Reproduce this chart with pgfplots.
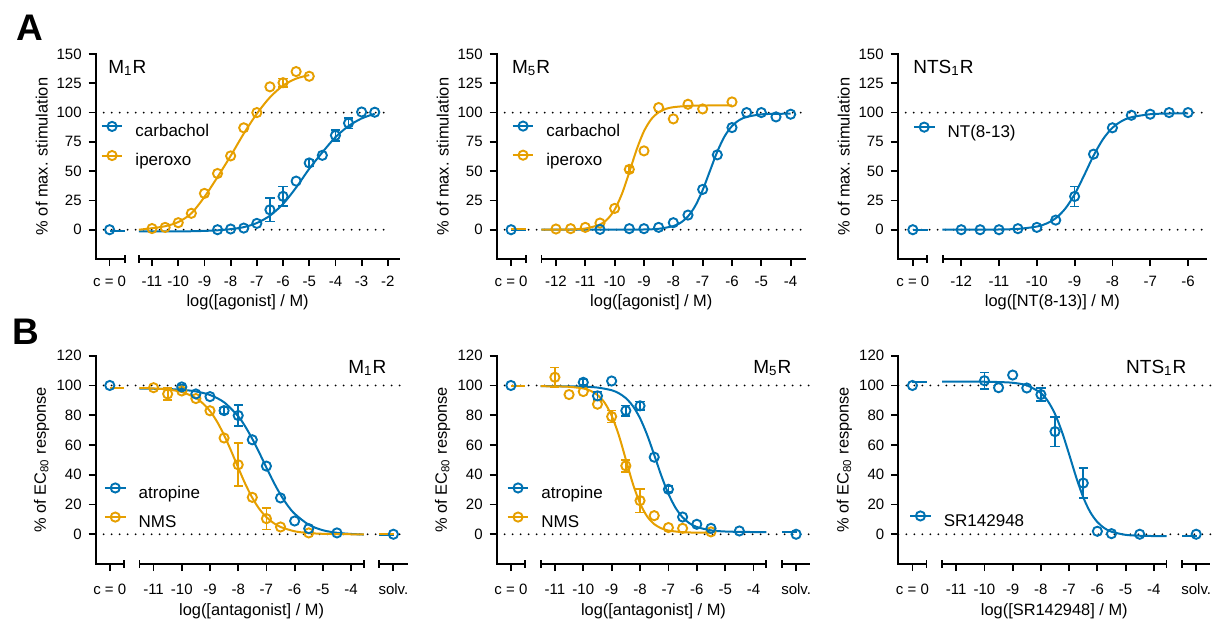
\documentclass[border=0pt]{standalone}
\usepackage{fontspec}
\setmainfont{Liberation Sans}
\usepackage{pgfplots}
\pgfplotsset{compat=1.18}

\definecolor{cb}{HTML}{0072B2}
\definecolor{co}{HTML}{E69F00}

\pgfplotsset{
  panel/.style={scale only axis, anchor=south west, clip=false,
    axis x line*=bottom, axis y line*=left,
    x axis line style={draw=none},
    y axis line style={line width=0.9pt, line cap=rect},
    tick align=outside, major tick length=3.5pt,
    every tick/.style={black, line width=0.9pt},
    minor tick num=0,
    /pgf/number format/assume math mode=true,
    tick label style={font=\fontsize{7.5}{9}\selectfont},
    label style={font=\fontsize{8.2}{10}\selectfont},
    ylabel style={at={([xshift=-27pt]axis description cs:0,0.5)}, anchor=center},
    legend style={draw=none, fill=none, inner sep=0pt, outer sep=0pt,
      font=\fontsize{8.5}{10}\selectfont, row sep=4.85pt,
      nodes={inner sep=0.5pt, text height=6.2pt, text depth=1.8pt},
      /tikz/every odd column/.append style={column sep=5.5pt}},
    legend cell align=left},
  rowA/.style={panel, height=102.5pt, ymin=-25, ymax=150, ytick={0,25,50,75,100,125,150},
    xticklabel style={yshift=-1.5pt},
    xlabel style={at={([yshift=-21.4pt]axis description cs:0.5,0)}, anchor=center},
    ylabel={\% of max. stimulation}},
  rowB/.style={panel, height=104.15pt, ymin=-20, ymax=120, ytick={0,20,40,60,80,100,120},
    xmin=-13.05, xmax=-2,
    xtick={-12.55,-11,-10,-9,-8,-7,-6,-5,-4,-2.5},
    xticklabels={c = 0,-11,-10,-9,-8,-7,-6,-5,-4,solv.},
    xticklabel style={yshift=-3pt},
    xlabel style={at={([yshift=-23.85pt]axis description cs:0.5,0)}, anchor=center},
    ylabel={\% of EC\textsubscript{80} response}},
  curve/.style={forget plot, line width=1pt, mark=none, smooth},
  pts/.style={forget plot, only marks, mark=o, mark size=2.3pt,
    mark options={line width=0.95pt, fill=white, solid}},
  errs/.style={forget plot, #1, only marks, mark=*, mark size=0.01pt,
    error bars/.cd, y dir=both, y explicit,
    error bar style={#1, line width=0.85pt, solid},
    error mark options={#1, rotate=90, mark size=2.3pt, line width=0.85pt}},
  leg/.style={line width=1pt, mark=o, mark size=2.3pt,
    mark options={fill=white, line width=0.95pt, solid},
    legend image code/.code={\draw[mark repeat=2,mark phase=2,##1]
      plot coordinates {(0pt,2.9pt) (5.2pt,2.9pt) (10.4pt,2.9pt)};}}
}
\tikzset{
  dotline/.style={black, line width=1pt, line cap=round, dash pattern=on 0pt off 4pt},
  xseg/.style={black, line width=0.9pt}
}
% end bar of an x-axis segment
\newcommand{\xbar}[2]{\draw[xseg] ([yshift=2pt]axis cs:#1,#2) -- ([yshift=-2pt]axis cs:#1,#2);}

\begin{document}
\begin{tikzpicture}
\useasboundingbox (0,0) rectangle (606.5pt,309pt);

% ---------- A1: M1R agonists
\begin{axis}[rowA, at={(47.85pt,179.5pt)}, width=151.96pt,
  xmin=-13.15, xmax=-1.55,
  xtick={-12.62,-11,-10,-9,-8,-7,-6,-5,-4,-3,-2},
  xticklabels={c = 0,-11,-10,-9,-8,-7,-6,-5,-4,-3,-2},
  xlabel={log([agonist] / M)},
  legend style={at={(axis cs:-12.96,92.1)}, anchor=north west}]
\draw[dotline] (axis cs:-13.15,0) -- (axis cs:-2,0);
\draw[dotline] (axis cs:-13.15,100) -- (axis cs:-2,100);
\draw[xseg] (axis cs:-13.15,-25) -- (axis cs:-12.04,-25);
\xbar{-12.04}{-25}
\xbar{-11.49}{-25}
\draw[xseg] (axis cs:-11.49,-25) -- (axis cs:-1.55,-25);
\addplot[curve, cb] coordinates {(-12.62,-1.5) (-12.04,-1.5)};
\addplot[curve, cb] coordinates {(-11.5,-1.5) (-11,-1.5) (-10.5,-1.5) (-10,-1.4) (-9.5,-1.3) (-9,-1.0) (-8.5,-0.5) (-8,0.5) (-7.5,2.2) (-7,5.7) (-6.5,12) (-6,22) (-5.5,36) (-5,52) (-4.5,66) (-4,79) (-3.5,88.5) (-3,95) (-2.5,99)};
\addplot[curve, co] coordinates {(-11.5,0) (-11,1.3) (-10.5,3) (-10,6.5) (-9.5,14) (-9,28) (-8.5,45) (-8,63) (-7.5,82) (-7,99) (-6.5,113) (-6,123) (-5.5,129) (-5,132)};
\addplot[errs=co] coordinates {(-6,125.5) +- (0,3.5)};
\addplot[pts, co] coordinates {(-11,1) (-10.5,2) (-10,6) (-9.5,14) (-9,31) (-8.5,48) (-8,63) (-7.5,87) (-7,100) (-6.5,122) (-6,125.5) (-5.5,135) (-5,131)};
\addplot[errs=cb] coordinates {(-6.5,17) +- (0,10) (-6,28.5) +- (0,8.5) (-5,57) +- (0,3) (-4,80.5) +- (0,4.5) (-3.5,91) +- (0,4.5)};
\addplot[pts, cb] coordinates {(-12.62,0) (-8.5,0) (-8,0.6) (-7.5,1.4) (-7,5.4) (-6.5,17) (-6,28.5) (-5.5,41.5) (-5,57) (-4.5,63.5) (-4,80.5) (-3.5,91) (-3,100.5) (-2.5,100.3)};
\addlegendimage{cb, leg}\addlegendentry{carbachol}
\addlegendimage{co, leg}\addlegendentry{iperoxo}
\end{axis}

% ---------- A2: M5R agonists
\begin{axis}[rowA, at={(248.35pt,179.5pt)}, width=154.6pt,
  xmin=-14.02, xmax=-3.48,
  xtick={-13.53,-12,-11,-10,-9,-8,-7,-6,-5,-4},
  xticklabels={c = 0,-12,-11,-10,-9,-8,-7,-6,-5,-4},
  xlabel={log([agonist] / M)},
  legend style={at={(axis cs:-13.51,92.4)}, anchor=north west}]
\draw[dotline] (axis cs:-14.02,0) -- (axis cs:-3.6,0);
\draw[dotline] (axis cs:-14.02,100) -- (axis cs:-3.6,100);
\draw[xseg] (axis cs:-14.02,-25) -- (axis cs:-13.02,-25);
\xbar{-13.02}{-25}
\xbar{-12.49}{-25}
\draw[xseg] (axis cs:-12.49,-25) -- (axis cs:-3.48,-25);
\addplot[curve, cb] coordinates {(-13.53,0) (-13.02,0)};
\addplot[curve, co] coordinates {(-13.53,0.3) (-13.02,0.3)};
\addplot[curve, cb] coordinates {(-12.5,0) (-10,0) (-9,0.2) (-8.5,0.8) (-8,3.1) (-7.75,6) (-7.5,11.4) (-7.25,20.4) (-7,33.8) (-6.75,50.3) (-6.5,66.7) (-6.25,79.8) (-6,88.5) (-5.75,93.6) (-5.5,96.3) (-5,98.5) (-4.5,98.9) (-4,99.1)};
\addplot[curve, co] coordinates {(-12.5,0) (-12,0.05) (-11.5,0.2) (-11,1) (-10.5,4.4) (-10.25,8.9) (-10,17.1) (-9.75,30.7) (-9.5,49.1) (-9.25,68.4) (-9,84.1) (-8.75,94.4) (-8.5,100.2) (-8.25,103.2) (-8,104.6) (-7.5,105.7) (-7,106) (-6,106.2)};
\addplot[errs=co] coordinates {(-9.5,51.5) +- (0,2.5)};
\addplot[pts, co] coordinates {(-12,0.6) (-11.5,0.9) (-11,2) (-10.5,5.7) (-10,18.2) (-9.5,51.5) (-9,67.3) (-8.5,104.3) (-8,94.6) (-7.5,107.1) (-7,103.1) (-6,109.1)};
\addplot[pts, cb] coordinates {(-13.53,0) (-10.5,0.3) (-9.5,0.9) (-9,0.9) (-8.5,2) (-8,6) (-7.5,12.5) (-7,34.4) (-6.5,63.9) (-6,87.2) (-5.5,100) (-5,100) (-4.5,96.3) (-4,98.6)};
\addlegendimage{cb, leg}\addlegendentry{carbachol}
\addlegendimage{co, leg}\addlegendentry{iperoxo}
\end{axis}

% ---------- A3: NTS1R agonist
\begin{axis}[rowA, at={(448.85pt,179.5pt)}, width=154.6pt,
  xmin=-13.68, xmax=-5.5,
  xtick={-13.28,-12,-11,-10,-9,-8,-7,-6},
  xticklabels={c = 0,-12,-11,-10,-9,-8,-7,-6},
  xlabel={log([NT(8-13)] / M)},
  legend style={at={(axis cs:-13.28,91.5)}, anchor=north west}]
\draw[dotline] (axis cs:-13.68,0) -- (axis cs:-5.55,0);
\draw[dotline] (axis cs:-13.68,100) -- (axis cs:-5.55,100);
\draw[xseg] (axis cs:-13.68,-25) -- (axis cs:-12.9,-25);
\xbar{-12.9}{-25}
\xbar{-12.49}{-25}
\draw[xseg] (axis cs:-12.49,-25) -- (axis cs:-5.5,-25);
\addplot[curve, cb] coordinates {(-13.28,0) (-12.9,0)};
\addplot[curve, cb] coordinates {(-12.5,0) (-11.5,0.05) (-11,0.2) (-10.5,0.7) (-10,2.7) (-9.75,5.2) (-9.5,9.8) (-9.25,17.9) (-9,30.2) (-8.75,46.3) (-8.5,63.2) (-8.25,77.2) (-8,87) (-7.75,92.8) (-7.5,96) (-7,98.6) (-6.5,99.2) (-6,99.4)};
\addplot[errs=cb] coordinates {(-9,28.4) +- (0,8.5)};
\addplot[pts, cb] coordinates {(-13.28,0) (-12,0) (-11.5,0) (-11,0) (-10.5,0.9) (-10,2) (-9.5,8.2) (-9,28.4) (-8.5,64.5) (-8,87) (-7.5,97.7) (-7,98.6) (-6.5,100) (-6,100)};
\addlegendimage{cb, leg}\addlegendentry{NT(8-13)}
\end{axis}

% ---------- B1: M1R antagonists
\begin{axis}[rowB, at={(47.85pt,27pt)}, width=155.9pt,
  xlabel={log([antagonist] / M)},
  legend style={at={(axis cs:-12.76,34.2)}, anchor=north west}]
\draw[dotline] (axis cs:-13.05,0) -- (axis cs:-2,0);
\draw[dotline] (axis cs:-13.05,100) -- (axis cs:-2,100);
\draw[xseg] (axis cs:-13.05,-20) -- (axis cs:-12.05,-20);
\xbar{-12.05}{-20}
\xbar{-11.5}{-20}
\draw[xseg] (axis cs:-11.5,-20) -- (axis cs:-3.55,-20);
\xbar{-3.55}{-20}
\xbar{-3}{-20}
\draw[xseg] (axis cs:-3,-20) -- (axis cs:-2,-20);
\addplot[curve, cb] coordinates {(-12.55,98) (-12.05,98)};
\addplot[curve, co] coordinates {(-12.55,98.4) (-12.05,98.4)};
\addplot[curve, cb] coordinates {(-3,-0.6) (-2.5,-0.6)};
\addplot[curve, co] coordinates {(-3,0.2) (-2.5,0.2)};
\addplot[curve, cb] coordinates {(-11.5,97.9) (-11,97.8) (-10.5,97.6) (-10,97.1) (-9.5,96.0) (-9,93.6) (-8.5,88.7) (-8,79.3) (-7.75,72.4) (-7.5,64.1) (-7.25,54.7) (-7,44.8) (-6.75,35.2) (-6.5,26.6) (-6.25,19.4) (-6,13.8) (-5.5,6.4) (-5,2.7) (-4.5,1.0) (-4,0.2) (-3.55,-0.2)};
\addplot[curve, co] coordinates {(-11.5,98.3) (-11,98.0) (-10.5,97.3) (-10,95.6) (-9.5,91.6) (-9.25,87.9) (-9,82.8) (-8.75,75.7) (-8.5,66.6) (-8.25,56.0) (-8,44.8) (-7.75,33.9) (-7.5,24.5) (-7.25,17.0) (-7,11.5) (-6.75,7.6) (-6.5,4.9) (-6,2.0) (-5.5,0.8) (-5,0.3) (-4.5,0.1) (-4,0) (-3.55,0)};
\addplot[errs=co] coordinates {(-10.5,94.3) +- (0,3.9) (-8,46.7) +- (0,14.5) (-7,10.5) +- (0,7.3)};
\addplot[pts, co] coordinates {(-11,98.5) (-10.5,94.3) (-10,96.3) (-9.5,91.2) (-9,83) (-8.5,64.7) (-8,46.7) (-7.5,24.8) (-7,10.5) (-6.5,4.9) (-5.5,0.9)};
\addplot[errs=cb] coordinates {(-10,99) +- (0,1.5) (-8.5,83.1) +- (0,2) (-8,79.8) +- (0,7)};
\addplot[pts, cb] coordinates {(-12.55,100) (-10,99) (-9.5,94.3) (-9,92.5) (-8.5,83.1) (-8,79.8) (-7.5,63.5) (-7,45.8) (-6.5,24.4) (-6,8.9) (-5.5,3.8) (-4.5,0.9) (-2.5,0)};
\addlegendimage{cb, leg}\addlegendentry{atropine}
\addlegendimage{co, leg}\addlegendentry{NMS}
\end{axis}

% ---------- B2: M5R antagonists
\begin{axis}[rowB, at={(248.35pt,27pt)}, width=156.8pt,
  xlabel={log([antagonist] / M)},
  legend style={at={(axis cs:-12.70,34.2)}, anchor=north west}]
\draw[dotline] (axis cs:-13.05,0) -- (axis cs:-2,0);
\draw[dotline] (axis cs:-13.05,100) -- (axis cs:-2,100);
\draw[xseg] (axis cs:-13.05,-20) -- (axis cs:-12.05,-20);
\xbar{-12.05}{-20}
\xbar{-11.5}{-20}
\draw[xseg] (axis cs:-11.5,-20) -- (axis cs:-3.55,-20);
\xbar{-3.55}{-20}
\xbar{-3}{-20}
\draw[xseg] (axis cs:-3,-20) -- (axis cs:-2,-20);
\addplot[curve, cb] coordinates {(-12.55,99.5) (-12.05,99.5)};
\addplot[curve, co] coordinates {(-12.55,99.7) (-12.05,99.7)};
\addplot[curve, cb] coordinates {(-3,1.5) (-2.5,1.5)};
\addplot[curve, cb] coordinates {(-11.5,99.5) (-11,99.5) (-10.5,99.4) (-10,99.2) (-9.5,98.6) (-9,96.8) (-8.75,94.8) (-8.5,91.5) (-8.25,86.1) (-8,78.0) (-7.75,66.8) (-7.5,53.3) (-7.25,39.4) (-7,27.2) (-6.75,17.8) (-6.5,11.4) (-6.25,7.3) (-6,4.9) (-5.5,2.6) (-5,1.85) (-4.5,1.6) (-4,1.5) (-3.55,1.5)};
\addplot[curve, co] coordinates {(-11.5,99.5) (-11,99.4) (-10.5,99.1) (-10,98.0) (-9.75,96.5) (-9.5,93.6) (-9.25,88.5) (-9,79.7) (-8.75,66.7) (-8.5,50.25) (-8.25,33.8) (-8,20.8) (-7.75,12.0) (-7.5,6.8) (-7.25,4.0) (-7,2.5) (-6.5,1.4) (-6,1.1) (-5.5,1.0)};
\addplot[errs=co] coordinates {(-11,105.5) +- (0,6.5) (-9,79.1) +- (0,4) (-8.5,46) +- (0,4) (-8,22.6) +- (0,8)};
\addplot[pts, co] coordinates {(-11,105.5) (-10.5,93.9) (-10,95.9) (-9.5,87.4) (-9,79.1) (-8.5,46) (-8,22.6) (-7.5,12.5) (-7,4.5) (-6.5,4) (-5.5,1.6)};
\addplot[errs=cb] coordinates {(-10,102.1) +- (0,2) (-9.5,93) +- (0,3) (-8.5,83.1) +- (0,3.5) (-8,86.3) +- (0,3) (-7,30.2) +- (0,2)};
\addplot[pts, cb] coordinates {(-12.55,100) (-10,102.1) (-9.5,93) (-9,103) (-8.5,83.1) (-8,86.3) (-7.5,51.8) (-7,30.2) (-6.5,11.6) (-6,6.7) (-5.5,4) (-4.5,2.2) (-2.5,0)};
\addlegendimage{cb, leg}\addlegendentry{atropine}
\addlegendimage{co, leg}\addlegendentry{NMS}
\end{axis}

% ---------- B3: NTS1R antagonist
\begin{axis}[rowB, at={(449.15pt,27pt)}, width=156.0pt,
  xlabel={log([SR142948] / M)},
  legend style={at={(axis cs:-12.67,15.4)}, anchor=north west}]
\draw[dotline] (axis cs:-13.05,0) -- (axis cs:-2,0);
\draw[dotline] (axis cs:-13.05,100) -- (axis cs:-2,100);
\draw[xseg] (axis cs:-13.05,-20) -- (axis cs:-12.05,-20);
\xbar{-12.05}{-20}
\xbar{-11.5}{-20}
\draw[xseg] (axis cs:-11.5,-20) -- (axis cs:-3.55,-20);
\xbar{-3.55}{-20}
\xbar{-3}{-20}
\draw[xseg] (axis cs:-3,-20) -- (axis cs:-2,-20);
\addplot[curve, cb] coordinates {(-12.55,102.5) (-12.05,102.5)};
\addplot[curve, cb] coordinates {(-3,-1.3) (-2.5,-1.3)};
\addplot[curve, cb] coordinates {(-11.5,102.5) (-10.5,102.5) (-10,102.5) (-9.5,102.3) (-9,101.8) (-8.5,100.1) (-8,94.9) (-7.75,89.4) (-7.5,80.8) (-7.25,68.6) (-7,53.7) (-6.75,38.3) (-6.5,24.8) (-6.25,14.8) (-6,8.2) (-5.75,4.1) (-5.5,1.7) (-5,-0.4) (-4.5,-1.0) (-4,-1.2) (-3.55,-1.3)};
\addplot[errs=cb] coordinates {(-10,103.2) +- (0,5.5) (-8,93.9) +- (0,4.5) (-7.5,69) +- (0,10) (-6.5,34.4) +- (0,10)};
\addplot[pts, cb] coordinates {(-12.55,100) (-10,103.2) (-9.5,98.5) (-9,107) (-8.5,98.3) (-8,93.9) (-7.5,69) (-6.5,34.4) (-6,2) (-5.5,0.4) (-4.5,0) (-2.5,0)};
\addlegendimage{cb, leg}\addlegendentry{SR142948}
\end{axis}

% panel titles and letters
\begin{scope}[every node/.style={inner sep=0pt, font=\fontsize{9.5}{11}\selectfont}]
\node[anchor=base west] at (54pt,272.5pt) {M\textsubscript{1}R};
\node[anchor=base west] at (255.85pt,272.5pt) {M\textsubscript{5}R};
\node[anchor=base west] at (456.5pt,272.5pt) {NTS\textsubscript{1}R};
\node[anchor=base east] at (193.35pt,122.5pt) {M\textsubscript{1}R};
\node[anchor=base east] at (395.85pt,122.5pt) {M\textsubscript{5}R};
\node[anchor=base east] at (593.35pt,122.5pt) {NTS\textsubscript{1}R};
\end{scope}
\node[anchor=base west, inner sep=0pt, font=\fontsize{18.5}{20}\selectfont\bfseries] at (8.2pt,289pt) {A};
\node[anchor=base west, inner sep=0pt, font=\fontsize{18.5}{20}\selectfont\bfseries] at (6pt,136.85pt) {B};
\end{tikzpicture}
\end{document}
